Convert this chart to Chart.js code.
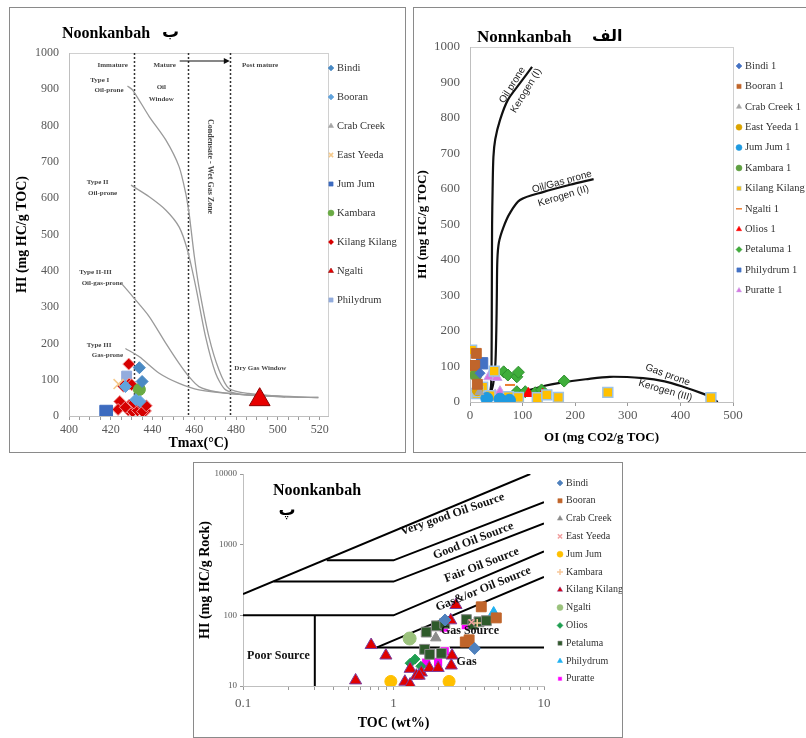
<!DOCTYPE html>
<html lang="en">
<head>
<meta charset="UTF-8">
<title>Noonkanbah source rock plots</title>
<script src="https://cdn.jsdelivr.net/npm/chart.js"></script>
<style>
  body { margin: 0; background: #fff; overflow: hidden; }
  .frame { position: absolute; border: 1px solid #8a8a8a; box-sizing: border-box; }
  canvas { position: absolute; }
</style>
</head>
<body>
<div class="frame" style="left:9px; top:7px; width:397px; height:446px;"></div>
<div class="frame" style="left:413px; top:7px; width:400px; height:446px;"></div>
<div class="frame" style="left:193px; top:462px; width:430px; height:276px;"></div>
<canvas id="tmaxChart" width="395" height="444" style="left:10px; top:8px;"></canvas>
<canvas id="oiChart" width="392" height="444" style="left:414px; top:8px;"></canvas>
<canvas id="tocChart" width="428" height="274" style="left:194px; top:463px;"></canvas>
<script>
// ---------- Tmax vs HI ----------
const tmaxTickLabels = [400, 420, 440, 460, 480, 500, 520];
const tmaxZones = [431, 457, 477];
const tmaxBindi = [[433.7, 133], [435, 95]];
const tmaxBooran = [[427, 81], [432, 45], [434, 40]];
const tmaxCrabCreek = [[432, 47]];
const tmaxEastYeeda = [[423.7, 88]];
const tmaxJumJum = [[417.8, 12]];
const tmaxKambara = [[433.7, 73]];
const tmaxKilang = [[428.6, 143], [428.8, 88], [426, 82], [430, 86], [424.3, 40], [423.5, 18],
  [428.9, 30], [428.4, 16], [430.5, 12], [432.9, 21], [432.8, 15], [435.5, 26], [436.6, 14],
  [435.2, 12], [431, 36], [427, 24], [437, 28]];
const tmaxNgalti = [[491.3, 45]];
const tmaxPhilydrum = [[427.6, 110]];

const typeICurve = [[428, 909], [430.5, 898], [438.4, 825], [446.4, 760], [452.7, 687], [455.9, 613],
  [457.5, 558], [458.3, 521], [460, 440], [462.2, 356], [467, 218], [471.8, 127], [476.6, 76],
  [486, 62], [503.5, 53]];
const typeIICurve = [[429.7, 636], [438.4, 604], [446.4, 567], [452.7, 521], [456.7, 457], [460.7, 356],
  [465.4, 218], [470.2, 118], [475, 72], [484.5, 58], [503.5, 53]];
const typeIIIIICurve = [[425, 366], [430.5, 329], [438.4, 274], [446.4, 200], [452.7, 145], [457.5, 108],
  [462.2, 81], [470.2, 67], [486, 58], [519.4, 51]];
const typeIIICurve = [[427, 186], [433.7, 163], [443.2, 118], [452.7, 90], [462.2, 72], [478.2, 61],
  [501.9, 53], [519.4, 51]];

// ---------- OI vs HI ----------
const oiBindi = [[19, 81]];
const oiBooran = [[12, 137], [9, 103], [14, 50]];
const oiCrabCreek = [[18, 28]];
const oiEastYeeda = [[14, 32]];
const oiJumJum = [[32, 10], [57, 8], [75, 5]];
const oiKambara = [[11, 76]];
const oiKilang = [[3, 146], [5, 86], [13, 24], [19, 39], [24, 42], [15, 30], [46, 87], [38, 18],
  [73, 15], [92, 13], [128, 12], [146, 20], [168, 13], [262, 27], [458, 12]];
const oiNgalti = [[76, 48], [8, 106]];
const oiOlios = [[16, 20], [111, 24], [138, 22]];
const oiPetaluma = [[64, 85], [72, 76], [89, 71], [92, 84], [89, 29], [105, 29], [124, 26], [136, 34], [179, 59]];
const oiPhilydrum = [[23, 109]];
const oiPuratte = [[36, 71], [51, 69], [48, 20], [57, 29]];

const keroIPath = [[30, 0], [36, 15], [40, 45], [41, 120], [41.5, 300], [42, 500], [43, 600], [44.5, 690],
  [48, 740], [57, 794], [72, 851], [95, 898], [118, 944]];
const keroIIPath = [[32, 0], [38, 20], [44, 50], [48, 100], [50, 200], [51, 300], [52, 400], [55, 450],
  [63, 490], [75, 530], [95, 569], [140, 592], [190, 612], [235, 628]];
const keroIIIPath = [[40, 15], [60, 24], [90, 30], [114, 34], [140, 45], [171, 54], [220, 64], [266, 71],
  [329, 67], [370, 58], [405, 43], [440, 25], [456, 15], [471, 0]];

// ---------- TOC vs HI (log-log) ----------
const tocTickLabels = [0.1, 1, 10];
const hiRockTickLabels = [10, 100, 1000, 10000];
const tocBindi = [[3.46, 34], [2.2, 86]];
const tocBooran = [[3.83, 132], [4.82, 92], [3.18, 45], [3.0, 42]];
const tocCrabCreek = [[1.91, 48]];
const tocEastYeeda = [[3.3, 80]];
const tocJumJum = [[0.96, 11.6], [2.34, 11.6]];
const tocKambara = [[3.6, 78]];
const tocKilang = [[0.56, 12], [0.71, 38], [0.89, 27], [1.19, 11.5], [1.29, 10.5], [1.29, 17.5], [1.42, 14],
  [1.53, 15.5], [1.73, 18], [1.98, 18], [2.42, 19.5], [2.45, 27], [2.4, 85], [2.6, 140], [1.48, 14]];
const tocNgalti = [[1.28, 47]];
const tocOlios = [[1.29, 21], [1.39, 24], [1.52, 19]];
const tocPetaluma = [[1.65, 58], [1.93, 71], [2.19, 77], [1.61, 33], [1.74, 28], [2.08, 29], [3.05, 87],
  [3.37, 74], [3.7, 81], [4.14, 84]];
const tocPhilydrum = [[4.63, 106]];
const tocPuratte = [[1.65, 21.4], [1.98, 21.9], [2.19, 31], [2.16, 67], [3.02, 72.6]];

const veryGoodEdge = [[0.1, 200], [8.1, 10000]];
const goodEdge = [[0.36, 600], [1, 600], [10, 4000]];
const fairEdge = [[0.16, 300], [1, 300], [10, 2000]];
const gasOilEdge = [[0.1, 100], [1, 100], [10, 800]];
const poorEdge = [[0.3, 10], [0.3, 100]];
const gasSourceEdge = [[0.77, 35], [10, 350]];
const gasEdge = [[0.77, 35], [10, 35]];

const serif = "'Liberation Serif', 'Times New Roman', serif";
Chart.defaults.font.family = serif;
Chart.defaults.color = '#595959';

function pointSet(label, pts, style, fill, radius, edge, edgeWidth) {
  return {
    label: label,
    data: pts.map(p => ({x: p[0], y: p[1]})),
    pointStyle: style,
    backgroundColor: fill,
    borderColor: edge || fill,
    pointRadius: radius,
    pointBorderWidth: edgeWidth === undefined ? 1 : edgeWidth,
    order: 1
  };
}

function guideLine(pts, color, width, tension) {
  return {
    guide: true,
    data: pts.map(p => ({x: p[0], y: p[1]})),
    showLine: true,
    borderColor: color,
    borderWidth: width,
    tension: tension || 0,
    pointRadius: 0,
    order: 5
  };
}

function text(ctx, str, x, y, font, angle, color, align) {
  ctx.save();
  ctx.translate(x, y);
  if (angle) ctx.rotate(angle * Math.PI / 180);
  ctx.font = font;
  ctx.fillStyle = color || '#000';
  ctx.textAlign = align || 'center';
  ctx.textBaseline = 'middle';
  ctx.fillText(str, 0, 0);
  ctx.restore();
}

// legend drawn at a fixed spot at the right of each plot
function drawLegend(chart, x, y0, step, font, r) {
  const ctx = chart.ctx;
  let row = 0;
  chart.data.datasets.forEach(ds => {
    if (ds.guide) return;
    const y = y0 + row * step;
    ctx.save();
    ctx.fillStyle = ds.backgroundColor;
    ctx.strokeStyle = ds.borderColor;
    ctx.lineWidth = (ds.pointStyle === 'line' || ds.pointStyle === 'cross' || ds.pointStyle === 'crossRot') ? 1.5 : 0.5;
    Chart.helpers.drawPoint(ctx, {pointStyle: ds.pointStyle, radius: r, borderWidth: ctx.lineWidth, rotation: 0}, x, y);
    ctx.restore();
    text(ctx, ds.label, x + 6, y, font, 0, '#333', 'left');
    row++;
  });
}

function boxArea(chart) {
  const a = chart.chartArea;
  const ctx = chart.ctx;
  ctx.save();
  ctx.strokeStyle = '#d0d0d0';
  ctx.lineWidth = 1;
  ctx.strokeRect(a.left + 0.5, a.top + 0.5, a.right - a.left, a.bottom - a.top);
  ctx.restore();
}

const plainNumber = v => String(v);

const baseOptions = {
  responsive: false,
  animation: false,
  events: [],
  plugins: {legend: {display: false}, tooltip: {enabled: false}}
};

// ---------- chart 1 ----------
const tmaxDecor = {
  id: 'tmaxDecor',
  beforeDraw(chart) { boxArea(chart); },
  beforeDatasetsDraw(chart) {
    const ctx = chart.ctx, xs = chart.scales.x, ys = chart.scales.y, a = chart.chartArea;
    ctx.save();
    ctx.strokeStyle = '#333';
    ctx.lineWidth = 1.5;
    ctx.setLineDash([2, 2]);
    tmaxZones.forEach(v => {
      const px = Math.round(xs.getPixelForValue(v)) + 0.5;
      ctx.beginPath(); ctx.moveTo(px, a.top); ctx.lineTo(px, a.bottom); ctx.stroke();
    });
    ctx.setLineDash([]);
    // arrow across the condensate zone
    const ay = ys.getPixelForValue(978);
    const ax0 = xs.getPixelForValue(453), ax1 = xs.getPixelForValue(477);
    ctx.lineWidth = 1.2;
    ctx.strokeStyle = '#111';
    ctx.beginPath(); ctx.moveTo(ax0, ay); ctx.lineTo(ax1 - 4, ay); ctx.stroke();
    ctx.fillStyle = '#111';
    ctx.beginPath(); ctx.moveTo(ax1, ay); ctx.lineTo(ax1 - 6, ay - 3); ctx.lineTo(ax1 - 6, ay + 3); ctx.closePath(); ctx.fill();
    ctx.restore();
    const f = "bold 7px " + serif;
    const put = (s, x, y, ang) => text(ctx, s, xs.getPixelForValue(x), ys.getPixelForValue(y), f, ang || 0, '#444');
    put('Immature', 420.9, 967);
    put('Mature', 445.8, 967);
    put('Post mature', 491.5, 967);
    put('Type I', 414.7, 926);
    put('Oil-prone', 419.2, 898);
    put('Oil', 444.2, 905);
    put('Window', 444.2, 873);
    text(ctx, 'Condensate - Wet Gas Zone', xs.getPixelForValue(467.6), ys.getPixelForValue(687), "bold 8px " + serif, 90, '#444');
    put('Type II', 413.7, 645);
    put('Oil-prone', 416.1, 615);
    put('Type II-III', 412.7, 396);
    put('Oil-gas-prone', 415.9, 367);
    put('Type III', 414.4, 196);
    put('Gas-prone', 418.4, 168);
    put('Dry Gas Window', 491.6, 131);
  },
  afterDraw(chart) {
    const ctx = chart.ctx;
    text(ctx, 'Noonkanbah', 52, 26, "bold 16px " + serif, 0, '#000', 'left');
    text(ctx, 'ب', 152, 25, "bold 17px 'DejaVu Sans'", 0, '#000', 'left');
    drawLegend(chart, 321, 60, 29, "10.5px " + serif, 3);
  }
};

new Chart(document.getElementById('tmaxChart'), {
  type: 'scatter',
  data: {
    datasets: [
      guideLine(typeICurve, '#9a9a9a', 1.3, 0.25),
      guideLine(typeIICurve, '#9a9a9a', 1.3, 0.25),
      guideLine(typeIIIIICurve, '#9a9a9a', 1.3, 0.25),
      guideLine(typeIIICurve, '#9a9a9a', 1.3, 0.25),
      pointSet('Bindi', tmaxBindi, 'rectRot', '#4a8ac4', 6),
      pointSet('Booran', tmaxBooran, 'rectRot', '#62a3dc', 6),
      pointSet('Crab Creek', tmaxCrabCreek, 'triangle', '#a5a5a5', 5),
      pointSet('East Yeeda', tmaxEastYeeda, 'crossRot', '#f5c98a', 7, '#f5c98a', 1.5),
      pointSet('Jum Jum', tmaxJumJum, 'rect', '#3d6bbf', 9),
      pointSet('Kambara', tmaxKambara, 'circle', '#6aab44', 6),
      pointSet('Kilang Kilang', tmaxKilang, 'rectRot', '#d60000', 6, '#f29a9a', 1),
      pointSet('Ngalti', tmaxNgalti, 'triangle', '#e80000', 12, '#8b0000', 1),
      pointSet('Philydrum', tmaxPhilydrum, 'rect', '#93acdd', 7)
    ]
  },
  options: Object.assign({}, baseOptions, {
    layout: {padding: {left: 0, top: 45, right: 77, bottom: 0}},
    scales: {
      x: {
        type: 'linear', min: 400, max: 524,
        afterFit: s => { s.height = 36; },
        afterBuildTicks: s => {
          const t = [];
          for (let v = tmaxTickLabels[0]; v <= tmaxTickLabels[tmaxTickLabels.length - 1]; v += 5) t.push({value: v});
          s.ticks = t;
        },
        ticks: {autoSkip: false, maxRotation: 0, padding: 3, font: {size: 12},
          callback: v => tmaxTickLabels.includes(v) ? String(v) : ''},
        grid: {drawOnChartArea: false, drawTicks: true, tickLength: 4, color: '#9a9a9a'},
        border: {color: '#bfbfbf'},
        title: {display: true, text: 'Tmax(°C)', color: '#000', font: {size: 14, weight: 'bold'}, padding: {top: 0, bottom: 0}}
      },
      y: {
        type: 'linear', min: 0, max: 1000,
        afterFit: s => { s.width = 59; },
        ticks: {stepSize: 100, padding: 10, font: {size: 12}, callback: plainNumber},
        grid: {display: false, drawTicks: false},
        border: {color: '#bfbfbf'},
        title: {display: true, text: 'HI (mg HC/g TOC)', color: '#000', font: {size: 14, weight: 'bold'}, padding: {top: 4, bottom: 4}}
      }
    }
  }),
  plugins: [tmaxDecor]
});

// ---------- chart 2 ----------
const oiDecor = {
  id: 'oiDecor',
  beforeDraw(chart) { boxArea(chart); },
  beforeDatasetsDraw(chart) {
    const ctx = chart.ctx, xs = chart.scales.x, ys = chart.scales.y;
    const f = "10px 'Liberation Sans', Arial, sans-serif";
    const put = (s, x, y, ang) => text(ctx, s, xs.getPixelForValue(x), ys.getPixelForValue(y), f, ang, '#222');
    put('Oil prone', 80.6, 893, -58);
    put('Kerogen (I)', 106.7, 877, -59);
    put('Oil/Gas prone', 174.7, 620, -15.5);
    put('Kerogen (II)', 177.7, 580, -17);
    put('Gas prone', 375.8, 76, 20);
    put('Kerogen (III)', 371.4, 32, 16);
  },
  afterDraw(chart) {
    const ctx = chart.ctx;
    text(ctx, 'Nonnkanbah', 63, 30, "bold 17px " + serif, 0, '#000', 'left');
    text(ctx, 'الف', 178, 29, "bold 16px 'DejaVu Sans'", 0, '#000', 'left');
    drawLegend(chart, 325, 58, 20.4, "10.5px " + serif, 3);
  }
};

new Chart(document.getElementById('oiChart'), {
  type: 'scatter',
  data: {
    datasets: [
      guideLine(keroIPath, '#111', 2.2, 0.3),
      guideLine(keroIIPath, '#111', 2.2, 0.3),
      guideLine(keroIIIPath, '#111', 2.2, 0.3),
      pointSet('Bindi 1', oiBindi, 'rectRot', '#4472c4', 5),
      pointSet('Booran 1', oiBooran, 'rect', '#c0652b', 7),
      pointSet('Crab Creek 1', oiCrabCreek, 'triangle', '#a5a5a5', 5),
      pointSet('East Yeeda 1', oiEastYeeda, 'circle', '#dba400', 5),
      pointSet('Jum Jum 1', oiJumJum, 'circle', '#1e9ae0', 6),
      pointSet('Kambara 1', oiKambara, 'circle', '#5fa041', 6),
      pointSet('Kilang Kilang', oiKilang, 'rect', '#ffc000', 7, '#9dc3e6', 1.5),
      pointSet('Ngalti 1', oiNgalti, 'line', '#ed7d31', 5, '#ed7d31', 2),
      pointSet('Olios 1', oiOlios, 'triangle', '#ff0000', 6),
      pointSet('Petaluma 1', oiPetaluma, 'rectRot', '#3fae3a', 6, '#2f8f2f', 1),
      pointSet('Philydrum 1', oiPhilydrum, 'rect', '#4472c4', 8),
      pointSet('Puratte 1', oiPuratte, 'triangle', '#d874e0', 6, '#c9a8e8', 1)
    ]
  },
  options: Object.assign({}, baseOptions, {
    layout: {padding: {left: 0, top: 39, right: 73, bottom: 0}},
    scales: {
      x: {
        type: 'linear', min: 0, max: 500,
        afterFit: s => { s.height = 50; },
        ticks: {stepSize: 100, padding: 2, maxRotation: 0, font: {size: 13}, callback: plainNumber},
        grid: {drawOnChartArea: false, drawTicks: true, tickLength: 4, color: '#9a9a9a'},
        border: {color: '#bfbfbf'},
        title: {display: true, text: 'OI (mg CO2/g TOC)', color: '#000', font: {size: 13, weight: 'bold'}, padding: {top: 0, bottom: 7}}
      },
      y: {
        type: 'linear', min: 0, max: 1000,
        afterFit: s => { s.width = 56; },
        ticks: {stepSize: 100, padding: 10, font: {size: 13}, callback: plainNumber},
        grid: {display: false, drawTicks: false},
        border: {color: '#bfbfbf'},
        title: {display: true, text: 'HI (mg HC/g TOC)', color: '#000', font: {size: 13, weight: 'bold'}, padding: {top: 1, bottom: 1}}
      }
    }
  }),
  plugins: [oiDecor]
});

// ---------- chart 3 ----------
const tocDecor = {
  id: 'tocDecor',
  afterDatasetsDraw(chart) {
    const ctx = chart.ctx, xs = chart.scales.x, ys = chart.scales.y;
    const f = "bold 12px " + serif;
    const put = (s, x, y, ang) => text(ctx, s, xs.getPixelForValue(x), ys.getPixelForValue(y), f, ang, '#111');
    put('Very good Oil Source', 2.47, 2685, -19);
    put('Good Oil Source', 3.39, 1136, -21);
    put('Fair Oil Source', 3.86, 514, -21);
    put('Gas&/or Oil Source', 3.96, 236, -22);
    put('Gas Source', 3.22, 60.6, 0);
    put('Gas', 3.06, 22, 0);
    put('Poor Source', 0.172, 26.6, 0);
  },
  afterDraw(chart) {
    const ctx = chart.ctx;
    text(ctx, 'Noonkanbah', 79, 28, "bold 16px " + serif, 0, '#000', 'left');
    text(ctx, 'پ', 93, 48, "bold 17px 'DejaVu Sans'", 0, '#000', 'center');
    drawLegend(chart, 366, 20, 17.8, "10px " + serif, 3);
  }
};

function logTicks(lo, hi) {
  const t = [];
  for (let d = lo; d < hi; d *= 10) {
    for (let k = 1; k < 10; k++) t.push({value: +(k * d).toPrecision(3)});
  }
  t.push({value: hi});
  return t;
}

new Chart(document.getElementById('tocChart'), {
  type: 'scatter',
  data: {
    datasets: [
      guideLine(veryGoodEdge, '#000', 2),
      guideLine(goodEdge, '#000', 2),
      guideLine(fairEdge, '#000', 2),
      guideLine(gasOilEdge, '#000', 2),
      guideLine(poorEdge, '#000', 2),
      guideLine(gasSourceEdge, '#000', 2),
      guideLine(gasEdge, '#000', 2),
      pointSet('Bindi', tocBindi, 'rectRot', '#4f81bd', 6),
      pointSet('Booran', tocBooran, 'rect', '#c0652b', 7),
      pointSet('Crab Creek', tocCrabCreek, 'triangle', '#8c8c8c', 6),
      pointSet('East Yeeda', tocEastYeeda, 'crossRot', '#f2a0a0', 4, '#f2a0a0', 1.5),
      pointSet('Jum Jum', tocJumJum, 'circle', '#ffc000', 6),
      pointSet('Kambara', tocKambara, 'cross', '#f8c89a', 4, '#f8c89a', 1.5),
      pointSet('Kilang Kilang', tocKilang, 'triangle', '#e00000', 7, '#7a3fa0', 1),
      pointSet('Ngalti', tocNgalti, 'circle', '#9bc27c', 6.5),
      pointSet('Olios', tocOlios, 'rectRot', '#1e9e50', 5),
      pointSet('Petaluma', tocPetaluma, 'rect', '#2e5a2a', 7, '#8a8a8a', 1),
      pointSet('Philydrum', tocPhilydrum, 'triangle', '#1fb0f0', 7),
      pointSet('Puratte', tocPuratte, 'rect', '#ff00ff', 6.5, '#ffffff', 1)
    ]
  },
  options: Object.assign({}, baseOptions, {
    layout: {padding: {left: 0, top: 11, right: 78, bottom: 0}},
    scales: {
      x: {
        type: 'logarithmic', min: 0.1, max: 10,
        afterFit: s => { s.height = 51; },
        afterBuildTicks: s => { s.ticks = logTicks(tocTickLabels[0], tocTickLabels[tocTickLabels.length - 1]); },
        ticks: {autoSkip: false, maxRotation: 0, padding: 6, font: {size: 13},
          callback: v => tocTickLabels.includes(v) ? String(v) : ''},
        grid: {drawOnChartArea: false, drawTicks: true, tickLength: 4, color: '#9a9a9a'},
        border: {color: '#bfbfbf'},
        title: {display: true, text: 'TOC (wt%)', color: '#000', font: {size: 14, weight: 'bold'}, padding: {top: 0, bottom: 5}}
      },
      y: {
        type: 'logarithmic', min: 10, max: 10000,
        afterFit: s => { s.width = 49; },
        afterBuildTicks: s => { s.ticks = hiRockTickLabels.map(v => ({value: v})); },
        ticks: {autoSkip: false, padding: 3, font: {size: 9}, callback: plainNumber},
        grid: {drawOnChartArea: false, drawTicks: true, tickLength: 3, color: '#9a9a9a'},
        border: {color: '#bfbfbf'},
        title: {display: true, text: 'HI (mg HC/g Rock)', color: '#000', font: {size: 14, weight: 'bold'}, padding: {top: 3, bottom: 3}}
      }
    }
  }),
  plugins: [tocDecor]
});
</script>
</body>
</html>
